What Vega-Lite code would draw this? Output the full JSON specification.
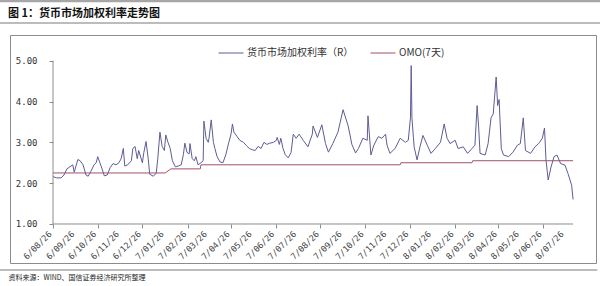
{
  "$schema": "https://vega.github.io/schema/vega-lite/v6.json",
  "width": 586,
  "height": 228,
  "autosize": "none",
  "padding": {"left": 10, "top": 35, "right": 4, "bottom": 23},
  "background": "white",
  "config": {"view": {"stroke": "#8c8c8c", "strokeWidth": 1}, "font": "Noto Sans CJK SC"},
  "title": {"text": "图 1：货币市场加权利率走势图", "anchor": "start", "frame": "group", "orient": "top", "baseline": "middle", "offset": -25, "dx": -2, "font": "Noto Sans CJK SC", "fontSize": 11, "fontWeight": "bold", "color": "#111"},
  "datasets": {
    "rate": [
      {"d": "2016-08-26", "v": 2.16}, {"d": "2016-08-31", "v": 2.13}, {"d": "2016-09-06", "v": 2.13}, {"d": "2016-09-10", "v": 2.2},
      {"d": "2016-09-14", "v": 2.35}, {"d": "2016-09-18", "v": 2.4}, {"d": "2016-09-22", "v": 2.45}, {"d": "2016-09-24", "v": 2.27},
      {"d": "2016-09-26", "v": 2.4}, {"d": "2016-09-29", "v": 2.58}, {"d": "2016-10-02", "v": 2.55}, {"d": "2016-10-06", "v": 2.45},
      {"d": "2016-10-10", "v": 2.2}, {"d": "2016-10-13", "v": 2.17}, {"d": "2016-10-17", "v": 2.3}, {"d": "2016-10-21", "v": 2.45},
      {"d": "2016-10-24", "v": 2.5}, {"d": "2016-10-26", "v": 2.65}, {"d": "2016-10-29", "v": 2.5}, {"d": "2016-11-01", "v": 2.35},
      {"d": "2016-11-04", "v": 2.18}, {"d": "2016-11-08", "v": 2.2}, {"d": "2016-11-12", "v": 2.38}, {"d": "2016-11-16", "v": 2.48},
      {"d": "2016-11-20", "v": 2.45}, {"d": "2016-11-24", "v": 2.5}, {"d": "2016-11-27", "v": 2.6}, {"d": "2016-11-30", "v": 2.85},
      {"d": "2016-12-02", "v": 2.42}, {"d": "2016-12-06", "v": 2.45}, {"d": "2016-12-11", "v": 2.55}, {"d": "2016-12-13", "v": 2.85},
      {"d": "2016-12-16", "v": 2.9}, {"d": "2016-12-19", "v": 2.6}, {"d": "2016-12-21", "v": 2.8}, {"d": "2016-12-26", "v": 2.5},
      {"d": "2016-12-28", "v": 2.75}, {"d": "2016-12-31", "v": 3.02}, {"d": "2017-01-03", "v": 2.6}, {"d": "2017-01-05", "v": 2.22},
      {"d": "2017-01-10", "v": 2.17}, {"d": "2017-01-14", "v": 2.25}, {"d": "2017-01-16", "v": 2.6}, {"d": "2017-01-19", "v": 3.25},
      {"d": "2017-01-22", "v": 2.9}, {"d": "2017-01-25", "v": 2.8}, {"d": "2017-01-27", "v": 3.18}, {"d": "2017-01-30", "v": 3.0},
      {"d": "2017-02-02", "v": 2.85}, {"d": "2017-02-05", "v": 2.55}, {"d": "2017-02-09", "v": 2.4}, {"d": "2017-02-13", "v": 2.42},
      {"d": "2017-02-17", "v": 2.45}, {"d": "2017-02-20", "v": 2.7}, {"d": "2017-02-22", "v": 2.98}, {"d": "2017-02-25", "v": 2.75},
      {"d": "2017-02-28", "v": 2.72}, {"d": "2017-03-01", "v": 2.97}, {"d": "2017-03-04", "v": 2.6}, {"d": "2017-03-07", "v": 2.55},
      {"d": "2017-03-09", "v": 2.65}, {"d": "2017-03-12", "v": 2.45}, {"d": "2017-03-16", "v": 2.5}, {"d": "2017-03-19", "v": 2.55},
      {"d": "2017-03-20", "v": 3.52}, {"d": "2017-03-23", "v": 3.1}, {"d": "2017-03-26", "v": 3.0}, {"d": "2017-03-27", "v": 3.1},
      {"d": "2017-03-30", "v": 3.55}, {"d": "2017-04-02", "v": 3.0}, {"d": "2017-04-04", "v": 2.85}, {"d": "2017-04-07", "v": 2.65},
      {"d": "2017-04-11", "v": 2.52}, {"d": "2017-04-15", "v": 2.5}, {"d": "2017-04-19", "v": 2.7}, {"d": "2017-04-23", "v": 3.0},
      {"d": "2017-04-26", "v": 3.2}, {"d": "2017-04-28", "v": 3.45}, {"d": "2017-04-30", "v": 3.25}, {"d": "2017-05-04", "v": 3.15},
      {"d": "2017-05-08", "v": 3.05}, {"d": "2017-05-13", "v": 3.0}, {"d": "2017-05-17", "v": 2.92}, {"d": "2017-05-21", "v": 2.85},
      {"d": "2017-05-25", "v": 2.82}, {"d": "2017-05-29", "v": 2.8}, {"d": "2017-06-02", "v": 2.9}, {"d": "2017-06-06", "v": 2.85},
      {"d": "2017-06-10", "v": 3.0}, {"d": "2017-06-14", "v": 2.95}, {"d": "2017-06-18", "v": 2.98}, {"d": "2017-06-23", "v": 3.0},
      {"d": "2017-06-27", "v": 3.05}, {"d": "2017-06-28", "v": 3.12}, {"d": "2017-07-01", "v": 2.95}, {"d": "2017-07-03", "v": 3.1},
      {"d": "2017-07-06", "v": 2.85}, {"d": "2017-07-09", "v": 2.7}, {"d": "2017-07-13", "v": 2.62}, {"d": "2017-07-17", "v": 2.75},
      {"d": "2017-07-20", "v": 3.2}, {"d": "2017-07-24", "v": 3.1}, {"d": "2017-07-28", "v": 3.2}, {"d": "2017-08-03", "v": 3.04},
      {"d": "2017-08-09", "v": 2.89}, {"d": "2017-08-15", "v": 3.2}, {"d": "2017-08-16", "v": 3.4}, {"d": "2017-08-22", "v": 3.12},
      {"d": "2017-08-28", "v": 3.43}, {"d": "2017-09-02", "v": 2.97}, {"d": "2017-09-06", "v": 2.76}, {"d": "2017-09-12", "v": 2.97},
      {"d": "2017-09-19", "v": 3.25}, {"d": "2017-09-26", "v": 3.8}, {"d": "2017-10-03", "v": 3.4}, {"d": "2017-10-08", "v": 2.95},
      {"d": "2017-10-13", "v": 2.74}, {"d": "2017-10-17", "v": 2.85}, {"d": "2017-10-23", "v": 3.1}, {"d": "2017-10-29", "v": 3.05},
      {"d": "2017-10-30", "v": 3.65}, {"d": "2017-11-03", "v": 2.69}, {"d": "2017-11-07", "v": 2.93}, {"d": "2017-11-13", "v": 3.14},
      {"d": "2017-11-18", "v": 3.1}, {"d": "2017-11-23", "v": 3.2}, {"d": "2017-11-25", "v": 2.93}, {"d": "2017-11-29", "v": 2.73},
      {"d": "2017-12-06", "v": 2.85}, {"d": "2017-12-13", "v": 3.1}, {"d": "2017-12-20", "v": 3.0}, {"d": "2017-12-24", "v": 3.05},
      {"d": "2017-12-27", "v": 3.6}, {"d": "2017-12-28", "v": 4.88}, {"d": "2017-12-29", "v": 3.6}, {"d": "2018-01-01", "v": 2.89},
      {"d": "2018-01-05", "v": 2.57}, {"d": "2018-01-09", "v": 2.89}, {"d": "2018-01-13", "v": 3.17}, {"d": "2018-01-19", "v": 2.93},
      {"d": "2018-01-24", "v": 2.73}, {"d": "2018-01-30", "v": 2.85}, {"d": "2018-02-06", "v": 3.0}, {"d": "2018-02-11", "v": 3.45},
      {"d": "2018-02-15", "v": 3.1}, {"d": "2018-02-19", "v": 2.97}, {"d": "2018-02-26", "v": 3.05}, {"d": "2018-03-02", "v": 2.85},
      {"d": "2018-03-09", "v": 2.89}, {"d": "2018-03-15", "v": 2.73}, {"d": "2018-03-21", "v": 2.85}, {"d": "2018-03-25", "v": 2.93},
      {"d": "2018-03-28", "v": 3.9}, {"d": "2018-03-30", "v": 3.4}, {"d": "2018-04-01", "v": 2.73}, {"d": "2018-04-08", "v": 2.69},
      {"d": "2018-04-12", "v": 2.97}, {"d": "2018-04-16", "v": 3.6}, {"d": "2018-04-19", "v": 3.7}, {"d": "2018-04-23", "v": 4.6},
      {"d": "2018-04-25", "v": 3.9}, {"d": "2018-04-27", "v": 4.05}, {"d": "2018-04-30", "v": 2.85}, {"d": "2018-05-03", "v": 2.69},
      {"d": "2018-05-10", "v": 2.65}, {"d": "2018-05-16", "v": 2.76}, {"d": "2018-05-22", "v": 2.93}, {"d": "2018-05-26", "v": 2.97},
      {"d": "2018-05-30", "v": 3.6}, {"d": "2018-06-02", "v": 2.8}, {"d": "2018-06-09", "v": 2.73}, {"d": "2018-06-15", "v": 2.89},
      {"d": "2018-06-20", "v": 2.97}, {"d": "2018-06-25", "v": 3.1}, {"d": "2018-06-28", "v": 3.35}, {"d": "2018-06-30", "v": 2.57},
      {"d": "2018-07-03", "v": 2.08}, {"d": "2018-07-07", "v": 2.4}, {"d": "2018-07-11", "v": 2.65}, {"d": "2018-07-15", "v": 2.69},
      {"d": "2018-07-20", "v": 2.48}, {"d": "2018-07-26", "v": 2.44}, {"d": "2018-07-30", "v": 2.24}, {"d": "2018-08-04", "v": 1.95},
      {"d": "2018-08-06", "v": 1.6}
    ],
    "omo": [
      {"d": "2016-08-26", "v": 2.25}, {"d": "2017-01-26", "v": 2.25}, {"d": "2017-02-03", "v": 2.35}, {"d": "2017-03-15", "v": 2.35},
      {"d": "2017-03-16", "v": 2.45}, {"d": "2017-12-13", "v": 2.45}, {"d": "2017-12-14", "v": 2.5}, {"d": "2018-03-21", "v": 2.5},
      {"d": "2018-03-22", "v": 2.55}, {"d": "2018-08-06", "v": 2.55}
    ],
    "ticks": [
      {"t": "2016-08-26", "label": "6/08/26"}, {"t": "2016-09-26", "label": "6/09/26"}, {"t": "2016-10-26", "label": "6/10/26"},
      {"t": "2016-11-26", "label": "6/11/26"}, {"t": "2016-12-26", "label": "6/12/26"}, {"t": "2017-01-26", "label": "7/01/26"},
      {"t": "2017-02-26", "label": "7/02/26"}, {"t": "2017-03-26", "label": "7/03/26"}, {"t": "2017-04-26", "label": "7/04/26"},
      {"t": "2017-05-26", "label": "7/05/26"}, {"t": "2017-06-26", "label": "7/06/26"}, {"t": "2017-07-26", "label": "7/07/26"},
      {"t": "2017-08-26", "label": "7/08/26"}, {"t": "2017-09-26", "label": "7/09/26"}, {"t": "2017-10-26", "label": "7/10/26"},
      {"t": "2017-11-26", "label": "7/11/26"}, {"t": "2017-12-26", "label": "7/12/26"}, {"t": "2018-01-26", "label": "8/01/26"},
      {"t": "2018-02-26", "label": "8/02/26"}, {"t": "2018-03-26", "label": "8/03/26"}, {"t": "2018-04-26", "label": "8/04/26"},
      {"t": "2018-05-26", "label": "8/05/26"}, {"t": "2018-06-26", "label": "8/06/26"}, {"t": "2018-07-26", "label": "8/07/26"}
    ]
  },
  "layer": [
    {
      "data": {"name": "rate"},
      "mark": {"type": "line", "strokeWidth": 1},
      "encoding": {
        "x": {
          "field": "d", "type": "temporal",
          "scale": {"type": "utc", "domain": [{"year": 2016, "month": 6, "date": 28, "hours": 7, "utc": true}, {"year": 2018, "month": 9, "date": 6, "hours": 7, "utc": true}]},
          "axis": {
            "values": [
              {"year": 2016, "month": 8, "date": 26, "utc": true}, {"year": 2016, "month": 9, "date": 26, "utc": true},
              {"year": 2016, "month": 10, "date": 26, "utc": true}, {"year": 2016, "month": 11, "date": 26, "utc": true},
              {"year": 2016, "month": 12, "date": 26, "utc": true}, {"year": 2017, "month": 1, "date": 26, "utc": true},
              {"year": 2017, "month": 2, "date": 26, "utc": true}, {"year": 2017, "month": 3, "date": 26, "utc": true},
              {"year": 2017, "month": 4, "date": 26, "utc": true}, {"year": 2017, "month": 5, "date": 26, "utc": true},
              {"year": 2017, "month": 6, "date": 26, "utc": true}, {"year": 2017, "month": 7, "date": 26, "utc": true},
              {"year": 2017, "month": 8, "date": 26, "utc": true}, {"year": 2017, "month": 9, "date": 26, "utc": true},
              {"year": 2017, "month": 10, "date": 26, "utc": true}, {"year": 2017, "month": 11, "date": 26, "utc": true},
              {"year": 2017, "month": 12, "date": 26, "utc": true}, {"year": 2018, "month": 1, "date": 26, "utc": true},
              {"year": 2018, "month": 2, "date": 26, "utc": true}, {"year": 2018, "month": 3, "date": 26, "utc": true},
              {"year": 2018, "month": 4, "date": 26, "utc": true}, {"year": 2018, "month": 5, "date": 26, "utc": true},
              {"year": 2018, "month": 6, "date": 26, "utc": true}, {"year": 2018, "month": 7, "date": 26, "utc": true}
            ],
            "labels": false,
            "tickSize": 4,
            "tickColor": "#8c8c8c",
            "domain": false,
            "grid": false,
            "offset": -39,
            "title": "资料来源：WIND、国信证券经济研究所整理",
            "titleX": -2,
            "titleY": 53,
            "titleAlign": "left",
            "titleAnchor": "start",
            "titleBaseline": "middle",
            "titleAngle": 0,
            "titleFont": "Noto Sans CJK SC",
            "titleFontSize": 7,
            "titleFontWeight": "normal",
            "titleColor": "#222"
          }
        },
        "y": {
          "field": "v", "type": "quantitative",
          "scale": {"domain": [0.0447, 5.6295], "zero": false, "nice": false},
          "axis": {
            "values": [1, 1.5, 2, 2.5, 3, 3.5, 4, 4.5, 5],
            "format": ".2f",
            "labelFont": "DejaVu Sans Mono",
            "labelFontSize": 9,
            "labelColor": "#333",
            "labelPadding": 12,
            "tickSize": 4,
            "tickColor": "#8c8c8c",
            "domain": false,
            "grid": false,
            "offset": -43,
            "title": null
          }
        },
        "color": {
          "datum": "货币市场加权利率（R）", "type": "nominal",
          "scale": {"domain": ["货币市场加权利率（R）", "OMO(7天)"], "range": ["#5d5d94", "#a0506e"]},
          "legend": {"orient": "none", "legendX": 208, "legendY": 5, "direction": "horizontal", "title": null, "symbolType": "stroke", "symbolSize": 625, "symbolStrokeWidth": 1, "labelFont": "Noto Sans CJK SC", "labelFontSize": 10, "labelColor": "#333", "columnPadding": 14, "labelOffset": 3}
        }
      }
    },
    {
      "data": {"name": "omo"},
      "mark": {"type": "line", "strokeWidth": 1},
      "encoding": {
        "x": {"field": "d", "type": "temporal"},
        "y": {"field": "v", "type": "quantitative"},
        "color": {"datum": "OMO(7天)", "type": "nominal"}
      }
    },
    {
      "data": {"name": "ticks"},
      "mark": {"type": "text", "angle": -45, "align": "right", "baseline": "middle", "dx": -4, "font": "DejaVu Sans Mono", "fontSize": 8.5, "color": "#444"},
      "encoding": {
        "x": {"field": "t", "type": "temporal"},
        "y": {"datum": 0.86, "type": "quantitative"},
        "text": {"field": "label", "type": "nominal"}
      }
    },
    {
      "data": {"values": [{}]},
      "mark": {"type": "rule", "color": "#a6a6a6", "strokeWidth": 2.5},
      "encoding": {
        "x": {"datum": {"year": 2016, "month": 6, "date": 14, "utc": true}, "type": "temporal"},
        "x2": {"datum": {"year": 2018, "month": 9, "date": 12, "utc": true}},
        "y": {"datum": 6.46, "type": "quantitative"}
      }
    },
    {
      "data": {"values": [{}]},
      "mark": {"type": "rule", "color": "#a6a6a6", "strokeWidth": 1.5},
      "encoding": {
        "x": {"datum": {"year": 2016, "month": 6, "date": 14, "utc": true}, "type": "temporal"},
        "x2": {"datum": {"year": 2018, "month": 9, "date": 12, "utc": true}},
        "y": {"datum": 5.923, "type": "quantitative"}
      }
    },
    {
      "data": {"values": [{}]},
      "mark": {"type": "rule", "color": "#a6a6a6", "strokeWidth": 1.5},
      "encoding": {
        "x": {"datum": {"year": 2016, "month": 6, "date": 14, "utc": true}, "type": "temporal"},
        "x2": {"datum": {"year": 2018, "month": 9, "date": 8, "utc": true}},
        "y": {"datum": -0.127, "type": "quantitative"}
      }
    },
    {
      "data": {"values": [{}]},
      "mark": {"type": "rule", "color": "#8c8c8c", "strokeWidth": 1},
      "encoding": {
        "x": {"datum": {"year": 2016, "month": 8, "date": 26, "utc": true}, "type": "temporal"},
        "y": {"datum": 1, "type": "quantitative"},
        "y2": {"datum": 5}
      }
    },
    {
      "data": {"values": [{}]},
      "mark": {"type": "rule", "color": "#8c8c8c", "strokeWidth": 1},
      "encoding": {
        "x": {"datum": {"year": 2016, "month": 8, "date": 26, "utc": true}, "type": "temporal"},
        "x2": {"datum": {"year": 2018, "month": 8, "date": 6, "utc": true}},
        "y": {"datum": 1, "type": "quantitative"}
      }
    }
  ]
}
